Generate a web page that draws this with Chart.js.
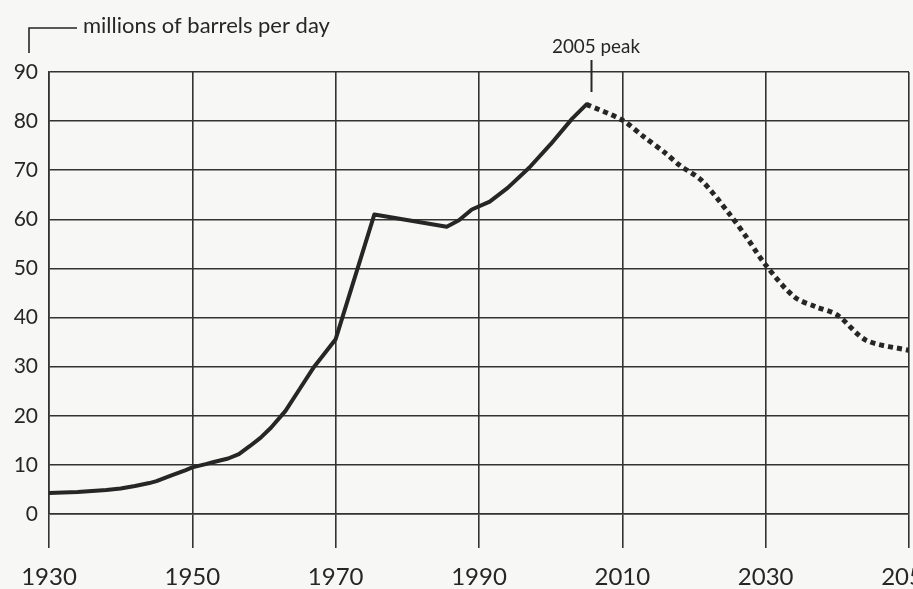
<!DOCTYPE html>
<html>
<head>
<meta charset="utf-8">
<script src="https://cdn.jsdelivr.net/npm/chart.js@4/dist/chart.umd.min.js"></script>
<style>
  html, body { margin: 0; padding: 0; background: #f7f7f5; overflow: hidden; }
  #wrap { width: 913px; height: 589px; overflow: hidden; position: relative; }
  canvas { display: block; }
</style>
</head>
<body>
<div id="wrap"><canvas id="c" width="1000" height="589"></canvas></div>
<script>
// ---- data ----
const historyYears = [1930, 1934, 1938, 1940, 1942, 1944, 1945, 1947, 1949, 1950, 1952, 1953, 1955, 1956.5, 1958, 1959.5, 1961, 1963, 1965, 1967, 1968.5, 1970, 1975.4, 1985.5, 1987.2, 1989, 1991.5, 1994, 1997, 2000, 2003, 2005];
const historyValues = [4.3, 4.5, 4.9, 5.2, 5.7, 6.3, 6.7, 7.8, 8.9, 9.5, 10.2, 10.6, 11.3, 12.2, 13.8, 15.5, 17.6, 21, 25.5, 30, 32.8, 35.6, 61, 58.5, 59.8, 62, 63.6, 66.4, 70.5, 75.3, 80.5, 83.4];
const forecastYears = [2005, 2010, 2013, 2016, 2018, 2021, 2025, 2027.5, 2030, 2034, 2037, 2040, 2044, 2050];
const forecastValues = [83.4, 80.2, 76.8, 73.5, 71, 68, 61, 56, 50.7, 44.2, 42.2, 40.5, 35.4, 33.3];
const xTickYears = [1930, 1950, 1970, 1990, 2010, 2030, 2050];
const yTickValues = [0, 10, 20, 30, 40, 50, 60, 70, 80, 90];
const unitLabel = 'millions of barrels per day';
const peakLabel = '2005 peak';
const peakYear = 2005;

const FONT = 'Lato, "Open Sans", sans-serif';
const INK = '#262626';
const GRID = '#333333';

const toPts = (xs, ys) => xs.map((x, i) => ({ x: x, y: ys[i] }));

const annotations = {
  id: 'annotations',
  afterDraw(chart) {
    const ctx = chart.ctx;
    const xs = chart.scales.x;
    ctx.save();
    ctx.strokeStyle = INK;
    ctx.lineWidth = 1.6;
    ctx.beginPath();
    ctx.moveTo(29, 53);
    ctx.lineTo(29, 28);
    ctx.lineTo(77, 28);
    ctx.stroke();
    ctx.fillStyle = INK;
    ctx.textBaseline = 'alphabetic';
    ctx.textAlign = 'left';
    let fs = 20;
    ctx.font = fs + 'px ' + FONT;
    fs = fs * 247 / ctx.measureText(unitLabel).width;
    ctx.font = fs.toFixed(2) + 'px ' + FONT;
    ctx.fillText(unitLabel, 83, 33);
    const px = xs.getPixelForValue(peakYear) + 5;
    ctx.lineWidth = 2;
    ctx.beginPath();
    ctx.moveTo(px, 60);
    ctx.lineTo(px, 92);
    ctx.stroke();
    let ps = 17;
    ctx.font = ps + 'px ' + FONT;
    ps = ps * 88 / ctx.measureText(peakLabel).width;
    ctx.font = ps.toFixed(2) + 'px ' + FONT;
    ctx.fillText(peakLabel, 552, 53);
    ctx.restore();
  }
};

new Chart(document.getElementById('c'), {
  type: 'scatter',
  data: {
    datasets: [
      {
        label: 'history',
        data: toPts(historyYears, historyValues),
        showLine: true,
        borderColor: INK,
        borderWidth: 4,
        pointRadius: 0,
        tension: 0,
        borderJoinStyle: 'round',
        borderCapStyle: 'round'
      },
      {
        label: 'forecast',
        data: toPts(forecastYears, forecastValues),
        showLine: true,
        borderColor: INK,
        borderWidth: 5,
        borderDash: [5, 4],
        borderCapStyle: 'butt',
        pointRadius: 0,
        tension: 0.3
      }
    ]
  },
  options: {
    responsive: false,
    animation: false,
    events: [],
    layout: { padding: { left: 0, right: 91, top: 72, bottom: 0 } },
    plugins: { legend: { display: false }, tooltip: { enabled: false }, title: { display: false } },
    scales: {
      x: {
        type: 'linear',
        min: 1930,
        max: 2050,
        afterBuildTicks: (s) => { s.ticks = xTickYears.map(v => ({ value: v })); },
        afterFit: (s) => { s.height = 75; },
        ticks: {
          color: INK,
          font: { family: FONT, size: 24 },
          padding: 15,
          maxRotation: 0,
          autoSkip: false,
          callback: (v) => String(v)
        },
        grid: { color: GRID, lineWidth: 1.6, tickLength: 34, drawTicks: true },
        border: { color: GRID, width: 1.6 }
      },
      y: {
        min: 0,
        max: 90,
        afterBuildTicks: (s) => { s.ticks = yTickValues.map(v => ({ value: v })); },
        afterFit: (s) => { s.width = 49; },
        ticks: {
          color: INK,
          font: { family: FONT, size: 21 },
          padding: 11,
          callback: (v) => String(v)
        },
        grid: { color: GRID, lineWidth: 1.6, drawTicks: false },
        border: { color: GRID, width: 1.6 }
      }
    }
  },
  plugins: [annotations]
});
</script>
</body>
</html>
